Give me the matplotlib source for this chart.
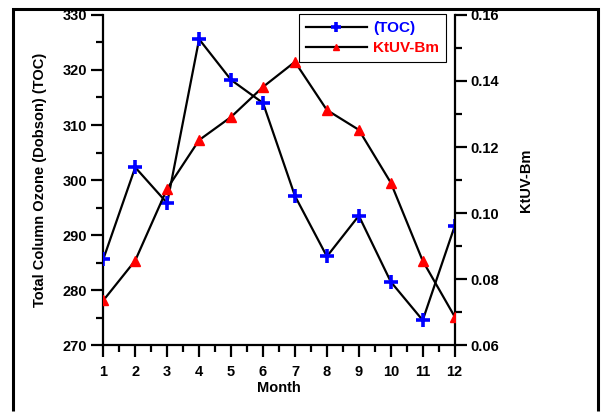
import numpy as np
import matplotlib
matplotlib.use("Agg")
import matplotlib.pyplot as plt
from matplotlib.lines import Line2D
from matplotlib.ticker import MultipleLocator

plt.rcParams['font.family'] = ['Liberation Sans', 'DejaVu Sans']
plt.rcParams['font.weight'] = 'bold'

months = [1, 2, 3, 4, 5, 6, 7, 8, 9, 10, 11, 12]
toc = [285.6, 302.3, 295.8, 325.6, 318.2, 314.0, 297.1, 286.1, 293.5, 281.5, 274.5, 291.6]
ktuv = [0.0735, 0.0856, 0.1074, 0.1221, 0.1291, 0.1382, 0.1458, 0.1312, 0.1252, 0.1092, 0.0855, 0.0686]

fig = plt.figure(figsize=(6.03, 4.12), dpi=100)
ax = fig.add_axes([0.1713, 0.1626, 0.5827, 0.801])
ax2 = ax.twinx()

# outer frame: left, top and right sides only
x0, x1, ytop = 13/603, 598/603, (412-9)/412
fig.add_artist(Line2D([x0, x0, x1, x1], [0.002, ytop, ytop, 0.002], transform=fig.transFigure,
                      color='black', lw=2.2, solid_joinstyle='miter', solid_capstyle='butt'))

l1, = ax.plot(months, toc, color='black', lw=1.6, marker='+', ms=10,
              mew=2.6, mec='blue', mfc='blue', zorder=3)
l2, = ax2.plot(months, ktuv, color='black', lw=1.6, marker='^', ms=7,
               mec='red', mfc='red', zorder=3)

ax.set_xlim(1, 12)
ax.set_ylim(270, 330)
ax2.set_ylim(0.06, 0.16)

ax.set_xticks(months)
ax.xaxis.set_minor_locator(MultipleLocator(0.5))
ax.yaxis.set_major_locator(MultipleLocator(10))
ax.yaxis.set_minor_locator(MultipleLocator(5))
ax2.set_yticks([0.06, 0.08, 0.10, 0.12, 0.14, 0.16])
ax2.set_yticklabels(['0.06', '0.08', '0.10', '0.12', '0.14', '0.16'])
ax2.yaxis.set_minor_locator(MultipleLocator(0.01))

for a in (ax, ax2):
    a.spines['top'].set_visible(False)
    for s in a.spines.values():
        s.set_linewidth(1.6)
    a.tick_params(which='major', direction='out', length=8.5, width=1.6,
                  labelsize=10.5, pad=3)
    a.tick_params(which='minor', direction='out', length=5, width=1.6)
ax.tick_params(axis='x', which='major', pad=6)
ax.spines['right'].set_visible(False)
ax2.spines['left'].set_visible(False)
ax2.spines['bottom'].set_visible(False)

for lab in ax.get_xticklabels() + ax.get_yticklabels() + ax2.get_yticklabels():
    lab.set_fontweight('bold')

ax.set_xlabel('Month', fontsize=10.5, fontweight='bold', labelpad=1)
ax.set_ylabel('Total Column Ozone (Dobson) (TOC)', fontsize=10.5, fontweight='bold', labelpad=11)
ax2.set_ylabel('KtUV-Bm', fontsize=10.5, fontweight='bold', labelpad=14)

leg = ax2.legend([l1, l2], ['(TOC)', 'KtUV-Bm'], loc='upper right',
                 bbox_to_anchor=(446/603, (412-14)/412), bbox_transform=fig.transFigure,
                 fancybox=False, edgecolor='black', framealpha=1,
                 prop={'size': 11, 'weight': 'bold'}, handlelength=4.0,
                 markerscale=0.7, borderpad=0.45, labelspacing=0.4,
                 handletextpad=0.4, borderaxespad=0)
leg.get_frame().set_linewidth(0.8)
leg.get_texts()[0].set_color('blue')
leg.get_texts()[1].set_color('red')

fig.savefig('out.png', dpi=100)
